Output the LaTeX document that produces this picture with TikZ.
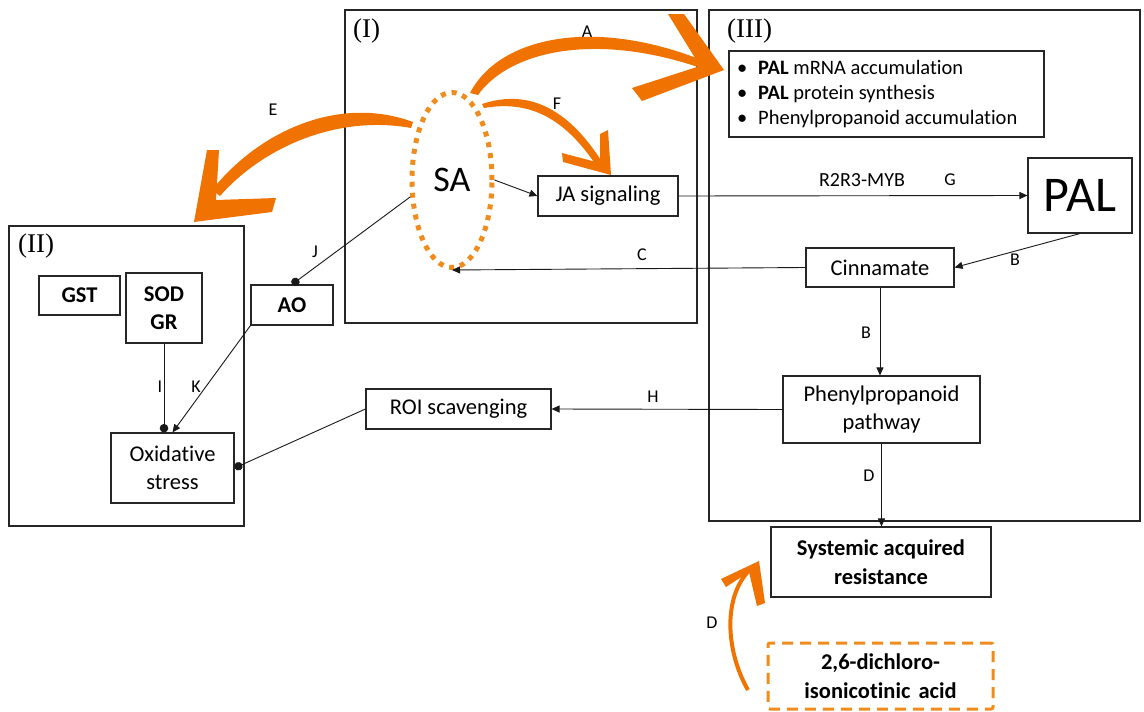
\documentclass[tikz,border=0pt]{standalone}
\usepackage{fontspec}
\setmainfont{Carlito}[Ligatures=NoCommon]
\newfontfamily\romfont{Liberation Serif}
\usetikzlibrary{arrows.meta,shapes.geometric}
\definecolor{brush}{RGB}{240,114,0}
\definecolor{dotor}{RGB}{240,140,30}
\newcommand\myfs[2]{\fontsize{#1}{#2}\selectfont}
\begin{document}
\begin{tikzpicture}[x=1pt,y=-1pt,
 bx/.style={draw=black!85,line width=1.1pt,inner sep=0pt,align=center,font=\myfs{22.5}{28.5}},
 bbx/.style={bx,font=\myfs{22.5}{28.5}\bfseries},
 region/.style={draw=black!85,line width=1.1pt,inner sep=0pt},
 lbl/.style={font=\myfs{18}{20},inner sep=0pt},
 rom/.style={font=\romfont\myfs{27}{30},inner sep=0pt,anchor=west},
 arr/.style={line width=0.9pt,draw=black!90,-{Triangle[length=8pt,width=7pt]}},
 dotl/.style={line width=0.9pt,draw=black!90,-{Circle[length=8.5pt]}},
 brushfill/.style={fill=brush,draw=none}
]
\useasboundingbox (0,0) rectangle (1144,712);
\fill[white] (0,0) rectangle (1144,712);

% regions
\node[region,minimum width=352pt,minimum height=313pt] (boxI) at (521,166.5) {};
\node[region,minimum width=235pt,minimum height=300pt] (boxII) at (126.5,376) {};
\node[region,minimum width=431pt,minimum height=511pt] (boxIII) at (924.5,265.5) {};
\node[rom] (lI) at (353,31) {(I)};
\node[rom] (lII) at (18,246) {(II)};
\node[rom] (lIII) at (727,31) {(III)};

% bullet box
\node[region,minimum width=315pt,minimum height=86pt] (blt) at (886.5,94) {};
\node[anchor=west,align=left,inner sep=0pt,font=\myfs{20.5}{25}] (bltxt) at (737,94)
 {\makebox[21pt][l]{\textbullet}\textbf{PAL} mRNA accumulation\\
  \makebox[21pt][l]{\textbullet}\textbf{PAL} protein synthesis\\
  \makebox[21pt][l]{\textbullet}Phenylpropanoid accumulation};

% main nodes
\node[ellipse,draw=dotor,line width=5pt,dash pattern=on 5pt off 6pt,minimum width=80pt,minimum height=175pt,inner sep=0pt,font=\myfs{36}{40}] (SA) at (452,180) {SA};
\node[bx,minimum width=140pt,minimum height=40pt] (JA) at (608,196) {JA signaling};
\node[bx,minimum width=104pt,minimum height=75pt,font=\myfs{50}{55}] (PAL) at (1080,195.5) {PAL};
\node[bx,minimum width=148pt,minimum height=39pt] (Cin) at (880,267.5) {Cinnamate};
\node[bx,minimum width=197pt,minimum height=67pt] (Phen) at (881.5,409.5) {Phenylpropanoid\\pathway};
\node[bbx,minimum width=220pt,minimum height=70pt] (SAR) at (881,562) {Systemic acquired\\resistance};
\node[bbx,draw=dotor,line width=3pt,dash pattern=on 11pt off 7pt,rounded corners=2pt,minimum width=225pt,minimum height=66pt] (acid) at (880.5,676) {2,6-dichloro-\\isonicotinic\hspace{3pt} acid};
\node[bx,minimum width=185pt,minimum height=40pt] (ROI) at (458.5,409) {ROI scavenging};
\node[bx,minimum width=123pt,minimum height=70pt] (Oxid) at (172.5,468) {Oxidative\\stress};
\node[bbx,minimum width=81pt,minimum height=39pt] (GST) at (79.5,295.5) {GST};
\node[bbx,minimum width=76pt,minimum height=70pt] (SOD) at (164,308) {SOD\\GR};
\node[bbx,minimum width=82pt,minimum height=40pt] (AO) at (292,305) {AO};

% connectors
\draw[arr] (SA.east) -- (JA.west);
\draw[arr] (JA.east) -- (PAL.west);
\draw[arr] (PAL.south) -- (Cin.east);
\draw[arr] (Cin.west) -- (SA.south);
\draw[arr] (Cin.south) -- (Cin.south |- Phen.north);
\draw[arr] (Phen.south) -- (Phen.south |- SAR.north);
\draw[arr] (Phen.west) -- (ROI.east);
\draw[dotl] (ROI.west) -- (Oxid.east);
\draw[dotl] (SOD.south) -- (SOD.south |- Oxid.north);
\draw[arr] (AO.south west) -- (Oxid.north);
\draw[dotl] (SA.202) -- (AO.north);

% labels
\node[lbl] (tA) at (587,32) {A};
\node[lbl] (tF) at (557,104) {F};
\node[lbl] (tE) at (273,110) {E};
\node[lbl] (tJ) at (315,252) {J};
\node[lbl] (tC) at (642,255) {C};
\node[lbl,font=\myfs{20}{22}] (tR) at (862,180) {R2R3-MYB};
\node[lbl] (tG) at (950,180) {G};
\node[lbl] (tB1) at (1015,260) {B};
\node[lbl] (tB2) at (866,333) {B};
\node[lbl] (tH) at (653,397) {H};
\node[lbl] (tD1) at (869,476) {D};
\node[lbl] (tI) at (160,387) {I};
\node[lbl] (tK) at (196,387) {K};
\node[lbl] (tD2) at (712,623) {D};

% orange brush arrows
% A
\fill[brushfill] (470,93) .. controls (500,35) and (600,15) .. (716,66) -- (712,72) .. controls (600,30) and (510,50) .. (478,95) -- cycle;
\fill[brushfill] (668,14) -- (684,14) -- (724,70) -- (642,101) -- (632,88) -- (700,66) -- cycle;
% F
\fill[brushfill] (482,104) .. controls (530,88) and (570,110) .. (604,165) -- (598,168) .. controls (565,118) and (530,100) .. (484,108) -- cycle;
\fill[brushfill] (600,134) -- (608,130) -- (611,175) -- (563,162) -- (562,153) -- (600,163) -- cycle;
% E
\fill[brushfill] (413,122) .. controls (340,95) and (260,130) .. (212,190) -- (220,196) .. controls (265,145) and (340,115) .. (411,128) -- cycle;
\fill[brushfill] (207,150) -- (219,150) -- (216,200) -- (276,198) -- (272,212) -- (194,222) -- cycle;
% D (bottom)
\draw[brush,line width=4pt] (748,690) .. controls (725,650) and (722,592) .. (754,566);
\fill[brushfill] (721,579) -- (726,587) -- (749,572) -- (757,606) -- (765,603) -- (759,561) -- cycle;
\end{tikzpicture}
\end{document}
